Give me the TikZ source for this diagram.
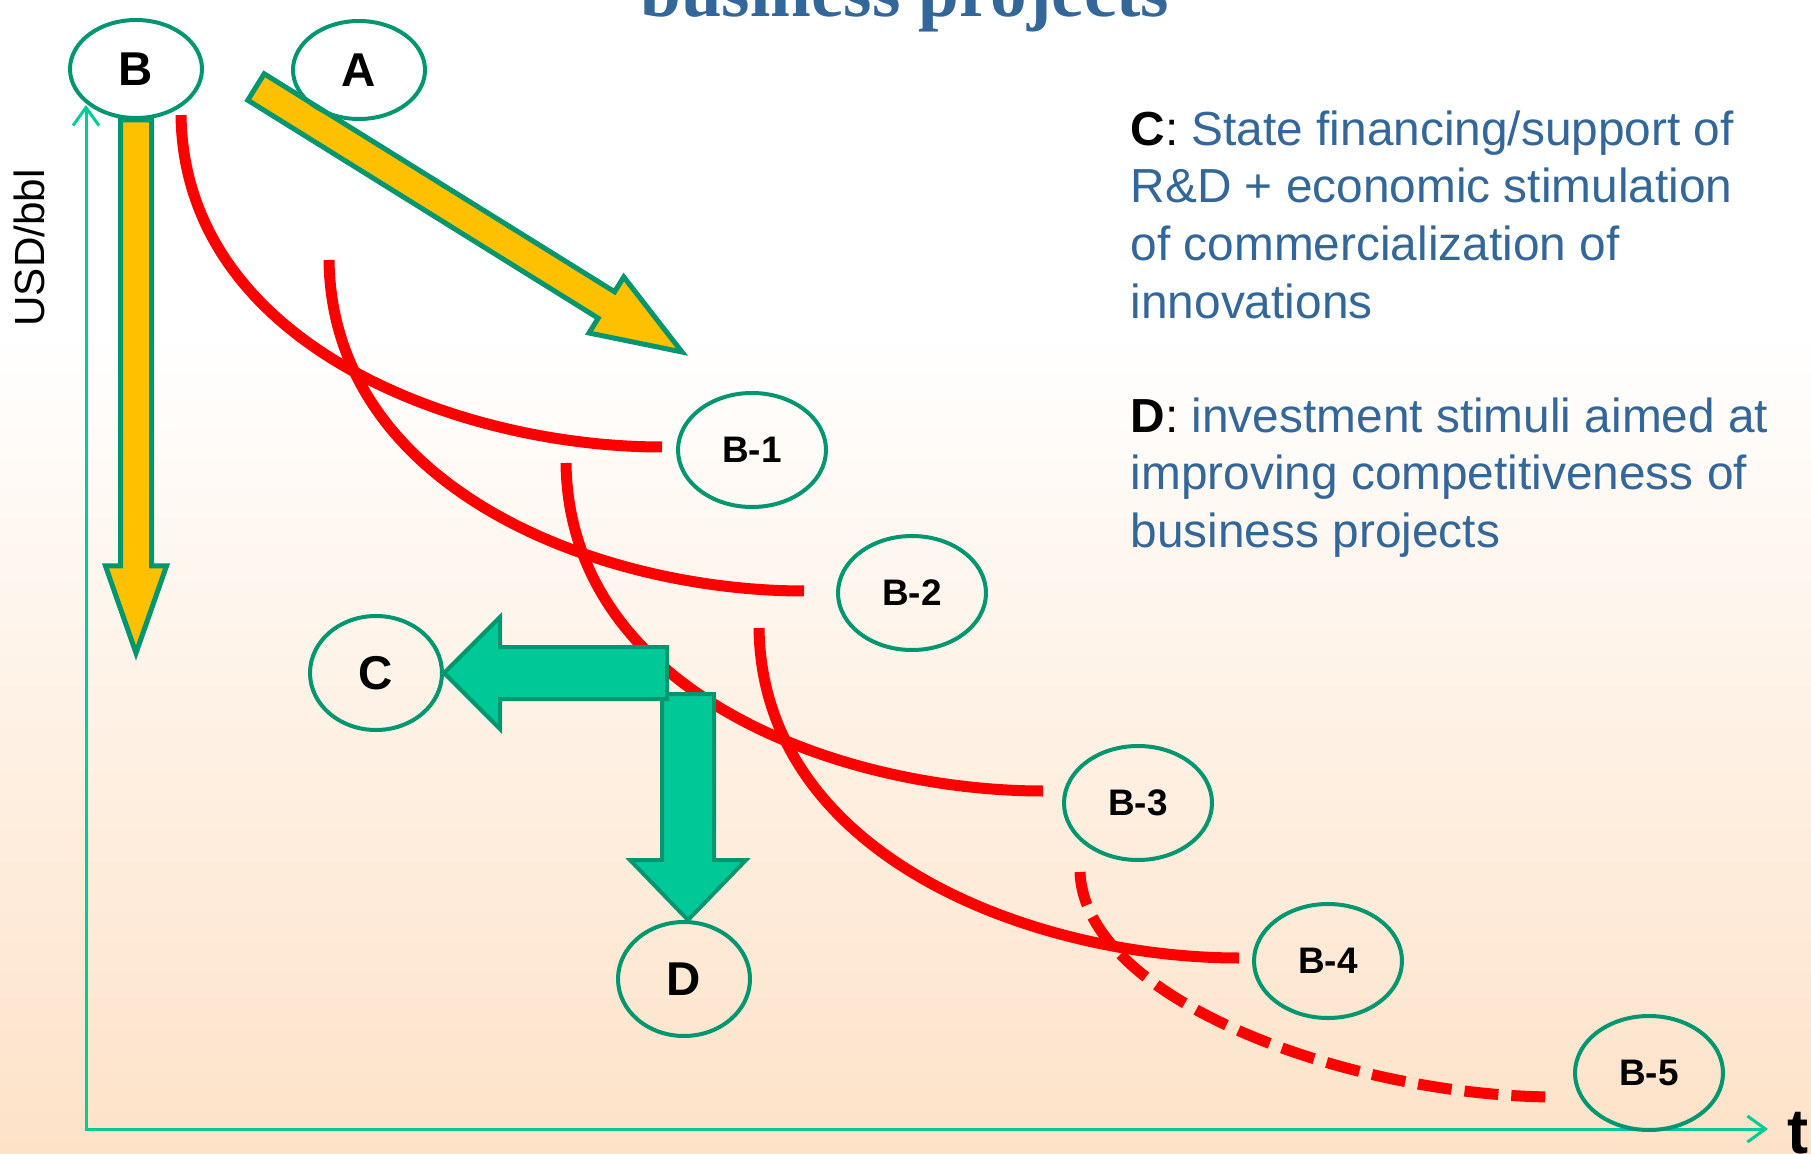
\documentclass[tikz,border=0pt]{standalone}
\usepackage{fontspec}
\setmainfont{Liberation Sans}
\newfontfamily\titlefont{Liberation Serif}
\usepackage{xcolor}
\usepackage{tikz}
\usetikzlibrary{shapes.geometric}
\usetikzlibrary{arrows.meta}
\usetikzlibrary{calc}

\definecolor{ringgreen}{RGB}{0,150,112}
\definecolor{axisgreen}{RGB}{0,204,153}
\definecolor{arrowgreen}{RGB}{0,201,151}
\definecolor{arrowyellow}{RGB}{255,192,0}
\definecolor{textblue}{RGB}{51,102,153}
\definecolor{bgpeach}{RGB}{253,226,200}

\pgfdeclarelayer{paper}
\pgfdeclarelayer{flow}
\pgfsetlayers{paper,flow,main}

\tikzset{
	oval/.style={ellipse, draw=ringgreen, line width=0.4mm, inner sep=0pt, minimum width=13.2mm, minimum height=11.4mm, font=\fontsize{13.5}{16}\selectfont\bfseries},
	topoval/.style={oval, minimum height=9.8mm},
	stage/.style={oval, minimum width=14.8mm, font=\fontsize{10.5}{12}\selectfont\bfseries},
	cost/.style={red, line width=1.1mm},
	yarrow/.style={fill=arrowyellow, draw=ringgreen, line width=0.5mm},
	garrow/.style={fill=arrowgreen, draw=ringgreen, line width=0.4mm},
	axis/.style={draw=axisgreen, line width=0.3mm}
}

\begin{document}
\begin{tikzpicture}[x=0.1mm, y=-0.1mm]
	\useasboundingbox (0,0) rectangle (1811,1154);
	\clip (0,0) rectangle (1811,1154);
	\begin{pgfonlayer}{paper}
		\fill[white] (0,0) rectangle (1811,1154);
		\shade[top color=white, bottom color=bgpeach] (0,330) rectangle (1811,1154);
	\end{pgfonlayer}

	\node[font=\titlefont\fontsize{20.8}{24}\selectfont\bfseries, text=textblue, anchor=base] (title) at (905,17) {business projects};

	\node[topoval] (B) at (136,69) {B};
	\node[topoval] (A) at (359,70) {A};
	\node[oval] (C) at (376,673) {C};
	\node[oval] (D) at (684,979) {D};
	\foreach \n/\x/\y in {1/752/450, 2/912/593, 3/1138/803, 4/1328/961, 5/1649/1073}
		\node[stage] (b\n) at (\x,\y) {B-\n};

	\coordinate (O) at (86,1129);
	\coordinate (ytop) at (86,105);
	\coordinate (xend) at (1768,1129);
	\coordinate (atail) at (256,87);
	\coordinate (atip) at (682,352);

	\begin{pgfonlayer}{flow}
		\draw[axis, {Straight Barb[length=1.8mm,width=2.6mm]}-{Straight Barb[length=1.8mm,width=2.6mm]}] (ytop) -- (O) -- (xend);

		\foreach \xa/\ya/\n/\dx/\dy in {181/115/1/-14/-3, 329/260/2/-32/-2, 566/463/3/-19/-12, 759/628/4/-13/-3}
			\draw[cost] (\xa,\ya) .. controls +(3,231) and +(-202,0) .. ($(b\n.west)+(\dx,\dy)$);
		\draw[cost, dash pattern=on 3.4mm off 1.3mm] (1080,872) .. controls +(5,130) and +(-202,0) .. ($(b5.west)+(-16,24)$);

		\draw[yarrow] ($(B.south)+(-15.5,0)$) -- ++(0,446) -- ++(-15,0) -- ++(30.5,87) -- ++(30.5,-87) -- ++(-15,0) -- ++(0,-446) -- cycle;
		\draw[yarrow] (247.8,100.2) -- (598.2,318.2) -- (589,333) -- (atip) -- (623.8,277) -- (614.6,291.8) -- (264.2,73.8) -- cycle;

		\draw[garrow] ($(D.north)+(4,0)$) -- ++(-58,-60) -- ++(32,0) -- ++(0,-166) -- ++(52,0) -- ++(0,166) -- ++(32,0) -- cycle;
		\draw[garrow] (C.east) -- ++(56,-56) -- ++(0,30) -- ++(167,0) -- ++(0,52) -- ++(-167,0) -- ++(0,30) -- cycle;
	\end{pgfonlayer}

	\node[rotate=90, font=\fontsize{12}{14}\selectfont] (ylab) at (29,248) {USD/bbl};
	\node[font=\fontsize{18}{20}\selectfont\bfseries] (tlab) at (1798,1133) {t};

	\node[anchor=north west, align=left, inner sep=0pt, font=\fontsize{13.6}{16.4}\selectfont, text=textblue] (ctext) at (1130,110)
		{{\color{black}\bfseries C}{\color{black}:} State financing/support of\\R\&D + economic stimulation\\of commercialization of\\innovations};
	\node[anchor=north west, align=left, inner sep=0pt, font=\fontsize{13.6}{16.4}\selectfont, text=textblue] (dtext) at (1130,397)
		{{\color{black}\bfseries D}{\color{black}:} investment stimuli aimed at\\improving competitiveness of\\business projects};
\end{tikzpicture}
\end{document}
